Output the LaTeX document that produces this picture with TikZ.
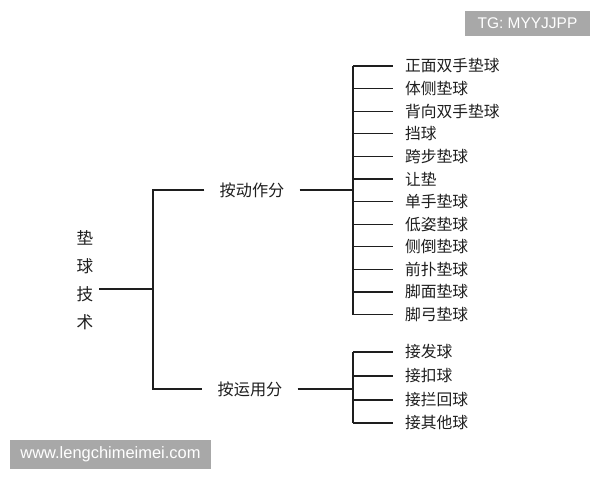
\documentclass[tikz,border=0pt]{standalone}
\usepackage{fontspec}
\setmainfont{Liberation Sans}
\newfontfamily\cjk{Noto Sans CJK SC}
\definecolor{ink}{HTML}{1E1E1E}
\definecolor{wmgray}{HTML}{A8A8A8}
\tikzset{
  conn/.style={draw=ink, line width=0.9pt},
  leaf/.style={anchor=west, inner xsep=8.5pt, inner ysep=0pt, text=ink, font=\cjk\fontsize{11.2}{12}\selectfont},
  midnode/.style={inner xsep=10.6pt, inner ysep=0pt, text=ink, font=\cjk\fontsize{11.5}{12}\selectfont},
  rootnode/.style={align=center, inner xsep=4pt, inner ysep=0pt, text=ink, font=\cjk\fontsize{11.8}{19.8}\selectfont},
  wm/.style={fill=wmgray, text=white, inner sep=0pt}
}
\begin{document}
\begin{tikzpicture}[x=0.025cm, y=-0.025cm]
\useasboundingbox (0,0) rectangle (600,480);
\fill[white] (0,0) rectangle (600,480);

% leaves of upper group
\node[leaf] (a1)  at (393,66)    {正面双手垫球};
\node[leaf] (a2)  at (393,88.6)  {体侧垫球};
\node[leaf] (a3)  at (393,111.2) {背向双手垫球};
\node[leaf] (a4)  at (393,133.8) {挡球};
\node[leaf] (a5)  at (393,156.4) {跨步垫球};
\node[leaf] (a6)  at (393,179)   {让垫};
\node[leaf] (a7)  at (393,201.6) {单手垫球};
\node[leaf] (a8)  at (393,224.2) {低姿垫球};
\node[leaf] (a9)  at (393,246.8) {侧倒垫球};
\node[leaf] (a10) at (393,269.4) {前扑垫球};
\node[leaf] (a11) at (393,292)   {脚面垫球};
\node[leaf] (a12) at (393,314.6) {脚弓垫球};

% leaves of lower group
\node[leaf] (b1) at (393,352) {接发球};
\node[leaf] (b2) at (393,376) {接扣球};
\node[leaf] (b3) at (393,400) {接拦回球};
\node[leaf] (b4) at (393,423) {接其他球};

% middle nodes
\node[midnode] (m1) at (252,190) {按动作分};
\node[midnode] (m2) at (250,389) {按运用分};

% root
\node[rootnode] (r) at (85,280) {垫\\球\\技\\术};

% spine coordinates
\coordinate (sa) at (353,190);
\coordinate (sb) at (353,389);
\coordinate (s0) at (153,289);

% upper spine and branches
\draw[conn] (sa |- a1.west) -- (sa |- a12.west);
\foreach \i in {1,...,12} { \draw[conn] (sa |- a\i.west) -- (a\i.west); }
\draw[conn] (m1.east) -- (sa);

% lower spine and branches
\draw[conn] (sb |- b1.west) -- (sb |- b4.west);
\foreach \i in {1,...,4} { \draw[conn] (sb |- b\i.west) -- (b\i.west); }
\draw[conn] (m2.east) -- (sb);

% left spine
\draw[conn] (m1.west) -- (m1.west -| s0) -- (m2.west -| s0) -- (m2.west);
\draw[conn] (r.east |- s0) -- (s0);

% watermarks
\node[wm, minimum width=88.6pt, minimum height=18.4pt, font=\fontsize{11}{13}\selectfont] (w1) at (527.5,23.5) {TG: MYYJJPP};
\node[wm, minimum width=142.4pt, minimum height=20.6pt, font=\fontsize{11.7}{14}\selectfont] (w2) at (110.5,454.5) {www.lengchimeimei.com};
\end{tikzpicture}
\end{document}
